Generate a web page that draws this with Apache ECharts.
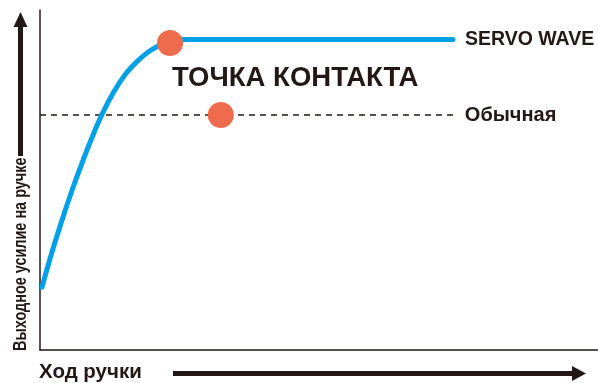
<!DOCTYPE html>
<html>
<head>
<meta charset="utf-8">
<script src="https://cdn.jsdelivr.net/npm/echarts@6/dist/echarts.min.js"></script>
<style>
  html, body { margin: 0; padding: 0; background: #fff; }
  #chart { width: 598px; height: 383px; }
</style>
</head>
<body>
<div id="chart"></div>
<script>
// servo curve (handle travel, output force), arbitrary 0..100 units
const servoX = [0.36, 2.15, 3.94, 5.73, 7.53, 9.32, 11.11, 13.26, 15.41, 17.56, 19.71, 21.86, 24.01, 26.16, 74]
const servoY = [18.5, 28.8, 38.2, 46.9, 55.0, 62.5, 69.3, 76.0, 81.3, 85.1, 88.0, 89.9, 91.0, 91.3, 91.3]
const normalX = [0, 74.7]
const normalY = [69.1, 69.1]
const contactPoints = [[23.3, 90.3], [32.4, 69.1]]

const seriesNames = ['SERVO WAVE', 'Обычная']
const contactLabel = 'ТОЧКА КОНТАКТА'
const xTitle = 'Ход ручки'
const yTitle = 'Выходное усилие на ручке'

const ink = '#231815'
const blue = '#00a0e9'
const dot = '#ee6c4d'
const font = '"Liberation Sans", Arial, sans-serif'

const chart = echarts.init(document.getElementById('chart'))

chart.setOption({
  animation: false,
  grid: { left: 40, right: 0, top: 10, bottom: 33 },
  xAxis: {
    type: 'value',
    min: 0,
    max: 100,
    axisLine: { lineStyle: { color: ink, width: 1.5 } },
    axisTick: { show: false },
    axisLabel: { show: false },
    splitLine: { show: false }
  },
  yAxis: {
    type: 'value',
    min: 0,
    max: 100,
    axisLine: { show: true, lineStyle: { color: ink, width: 1.5 } },
    axisTick: { show: false },
    axisLabel: { show: false },
    splitLine: { show: false }
  },
  series: [
    {
      name: seriesNames[1],
      type: 'line',
      data: normalX.map((x, i) => [x, normalY[i]]),
      symbol: 'none',
      lineStyle: { color: ink, width: 1.6, type: [6, 5] },
      endLabel: {
        show: true,
        formatter: seriesNames[1],
        distance: 8,
        color: ink,
        fontFamily: font,
        fontWeight: 'bold',
        fontSize: 20
      },
      z: 1
    },
    {
      name: seriesNames[0],
      type: 'line',
      data: servoX.map((x, i) => [x, servoY[i]]),
      smooth: 0.4,
      symbol: 'none',
      lineStyle: { color: blue, width: 5, cap: 'round' },
      endLabel: {
        show: true,
        formatter: seriesNames[0],
        distance: 12,
        color: ink,
        fontFamily: font,
        fontWeight: 'bold',
        fontSize: 19.5
      },
      z: 2
    },
    {
      type: 'scatter',
      data: contactPoints,
      symbolSize: 26,
      itemStyle: { color: dot, opacity: 1 },
      z: 3
    }
  ],
  graphic: [
    {
      type: 'text',
      x: 172,
      y: 78,
      style: { text: contactLabel, fill: ink, font: 'bold 27.5px ' + font, textVerticalAlign: 'middle' }
    },
    {
      type: 'text',
      x: 39,
      y: 372,
      style: { text: xTitle, fill: ink, font: 'bold 20.5px ' + font, textVerticalAlign: 'middle' }
    },
    // bottom arrow
    {
      type: 'line',
      shape: { x1: 173, y1: 373.5, x2: 574, y2: 373.5 },
      style: { stroke: ink, lineWidth: 5 }
    },
    {
      type: 'polygon',
      shape: { points: [[572, 366], [586, 373.5], [572, 381]] },
      style: { fill: ink }
    },
    // left arrow
    {
      type: 'line',
      shape: { x1: 20.5, y1: 156, x2: 20.5, y2: 25 },
      style: { stroke: ink, lineWidth: 5 }
    },
    {
      type: 'polygon',
      shape: { points: [[13.5, 27], [20.5, 12], [27.5, 27]] },
      style: { fill: ink }
    },
    {
      type: 'text',
      x: 20.5,
      y: 351,
      rotation: Math.PI / 2,
      scaleX: 0.78,
      style: { text: yTitle, fill: ink, font: 'bold 18.5px ' + font, textVerticalAlign: 'middle' }
    }
  ]
})
</script>
</body>
</html>
